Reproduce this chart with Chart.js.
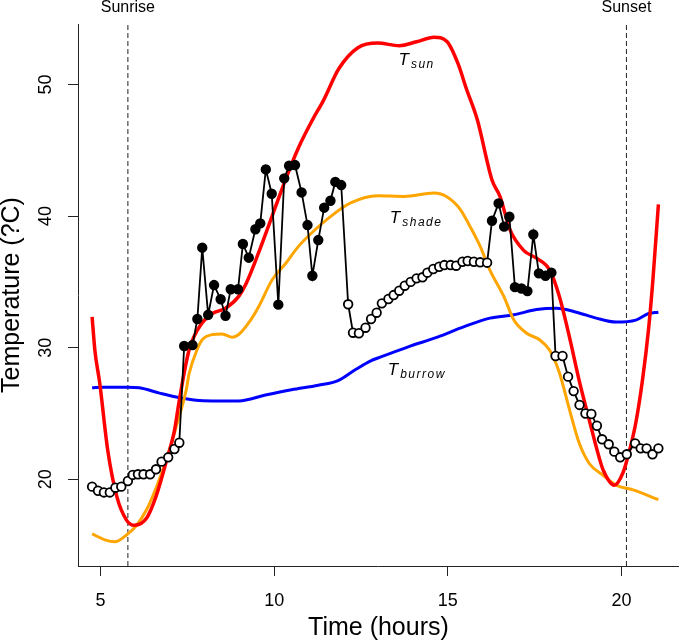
<!DOCTYPE html>
<html>
<head>
<meta charset="utf-8">
<script src="https://cdn.jsdelivr.net/npm/chart.js@4.4.1/dist/chart.umd.min.js"></script>
<style>
  html, body { margin: 0; padding: 0; background: #fff; }
  canvas { display: block; }
</style>
</head>
<body>
<canvas id="chart" width="685" height="644"></canvas>
<script>
// T sun (operative temperature in full sun)
const sunHours = [4.76, 4.84, 4.98, 5.21, 5.47, 5.75, 5.98, 6.33, 6.6, 6.9, 7.13, 7.27, 7.55, 7.93, 8.22, 8.6, 8.98, 9.18, 9.55, 9.9, 10.33, 10.7, 11.1, 11.42, 11.86, 12.41, 12.98, 13.6, 14.1, 14.6, 14.98, 15.29, 15.53, 15.85, 16.27, 16.5, 16.79, 17.18, 17.55, 17.93, 18.21, 18.5, 18.78, 19.07, 19.35, 19.47, 19.79, 20.04, 20.21, 20.41, 20.6, 20.78, 20.9, 21.06];
const sunTemps = [32.35, 29.8, 27.3, 22.2, 18.7, 16.9, 16.5, 17.05, 18.7, 21.4, 23.7, 26.0, 29.8, 31.9, 32.6, 33.0, 33.9, 34.8, 37.2, 39.7, 42.8, 45.2, 47.3, 48.8, 51.2, 52.8, 53.15, 52.95, 53.25, 53.6, 53.25, 51.6, 49.7, 47.3, 42.75, 41.5, 38.95, 37.4, 36.8, 35.9, 33.9, 30.8, 27.5, 24.5, 21.7, 20.7, 19.55, 20.5, 22.0, 24.3, 27.5, 31.5, 35.1, 40.9];

// T shade
const shadeHours = [4.76, 5.13, 5.41, 5.75, 6.04, 6.33, 6.61, 6.9, 7.18, 7.47, 7.55, 7.79, 7.93, 8.22, 8.5, 8.8, 8.98, 9.27, 9.55, 9.94, 10.33, 10.7, 11.07, 11.64, 12.2, 12.98, 13.74, 14.6, 14.98, 15.36, 15.64, 15.93, 16.21, 16.61, 16.9, 17.27, 17.64, 17.93, 18.21, 18.5, 18.78, 19.07, 19.47, 19.84, 20.33, 21.06];
const shadeTemps = [15.85, 15.4, 15.25, 15.77, 16.5, 17.7, 19.4, 21.5, 24.0, 26.8, 28.0, 29.9, 30.6, 31.0, 31.05, 30.8, 31.0, 31.9, 33.1, 35.15, 36.4, 37.7, 38.7, 40.0, 41.0, 41.55, 41.5, 41.75, 41.45, 40.5, 39.2, 37.7, 35.9, 33.9, 32.1, 31.1, 30.6, 29.8, 28.1, 25.3, 22.75, 21.2, 20.3, 19.55, 19.2, 18.45];

// T burrow
const burrowHours = [4.76, 5.07, 5.79, 6.12, 6.7, 7.18, 7.75, 8.22, 8.98, 9.75, 10.5, 11.27, 11.84, 12.32, 12.78, 13.07, 13.84, 14.7, 15.47, 16.21, 16.9, 17.55, 18.13, 18.7, 19.27, 19.84, 20.41, 20.78, 21.06];
const burrowTemps = [26.95, 27.0, 27.0, 26.95, 26.55, 26.25, 26.0, 25.95, 25.95, 26.4, 26.8, 27.15, 27.5, 28.3, 29.0, 29.3, 30.05, 30.8, 31.6, 32.25, 32.5, 32.9, 33.0, 32.7, 32.25, 31.95, 32.1, 32.6, 32.7];

// observed body temperature, 1 = filled point, 0 = open point
const bodyHours = [4.76, 4.93, 5.1, 5.27, 5.43, 5.6, 5.79, 5.93, 6.08, 6.24, 6.43, 6.6, 6.76, 6.95, 7.13, 7.27,
  7.41, 7.65, 7.79, 7.93, 8.1, 8.27, 8.46, 8.6, 8.75, 8.96, 9.1, 9.27, 9.46, 9.6, 9.76, 9.93, 10.12, 10.29, 10.43, 10.6, 10.79, 10.96, 11.1, 11.27, 11.44, 11.62, 11.76, 11.93,
  12.13, 12.27, 12.44, 12.63, 12.79, 12.95, 13.1, 13.29, 13.44, 13.6, 13.76, 13.93, 14.1, 14.27, 14.41, 14.58, 14.75, 14.9, 15.08, 15.24, 15.42, 15.57, 15.75, 15.93, 16.13,
  16.27, 16.46, 16.62, 16.77, 16.93, 17.12, 17.29, 17.46, 17.62, 17.81, 17.98,
  18.1, 18.3, 18.46, 18.62, 18.79, 18.96, 19.13, 19.29, 19.44, 19.63, 19.79, 19.96, 20.15, 20.39, 20.55, 20.72, 20.89, 21.06];
const bodyTemps = [19.44, 19.13, 19.0, 19.0, 19.36, 19.44, 19.87, 20.33, 20.38, 20.38, 20.38, 20.76, 21.34, 21.67, 22.3, 22.78,
  30.13, 30.2, 32.18, 37.6, 32.5, 34.76, 33.68, 32.43, 34.44, 34.44, 37.88, 36.84, 39.0, 39.45, 43.55, 41.7, 33.27, 42.87, 43.83, 43.88, 41.8, 39.32, 35.47, 38.18, 40.64, 41.17, 42.6, 42.36,
  33.3, 31.14, 31.1, 31.52, 32.18, 32.66, 33.37, 33.7, 34.0, 34.33, 34.71, 35.0, 35.27, 35.35, 35.7, 35.98, 36.15, 36.28, 36.28, 36.23, 36.53, 36.59, 36.53, 36.49, 36.46,
  39.65, 40.97, 39.2, 39.95, 34.6, 34.5, 34.3, 38.6, 35.65, 35.47, 35.7,
  29.37, 29.37, 27.8, 26.7, 25.65, 25.0, 24.96, 24.07, 23.04, 22.66, 22.1, 21.67, 21.9, 22.73, 22.35, 22.35, 21.9, 22.35];
const bodyFilled = [0,0,0,0,0,0,0,0,0,0,0,0,0,0,0,0,
  1,1,1,1,1,1,1,1,1,1,1,1,1,1,1,1,1,1,1,1,1,1,1,1,1,1,1,1,
  0,0,0,0,0,0,0,0,0,0,0,0,0,0,0,0,0,0,0,0,0,0,0,0,0,
  1,1,1,1,1,1,1,1,1,1,1,
  0,0,0,0,0,0,0,0,0,0,0,0,0,0,0,0,0,0];

const sunEventHours = [5.79, 20.14];
const sunEventLabels = ['Sunrise', 'Sunset'];

const curveNames = ['sun', 'shade', 'burrow'];
const curveLabelX = [13.58, 13.33, 13.27];
const curveLabelY = [51.48, 39.45, 27.93];

const xTicks = [5, 10, 15, 20];
const yTicks = [20, 30, 40, 50];
const xMin = 4.354, xMax = 21.65;
const yMin = 13.41, yMax = 54.6;

const FONT = "'Liberation Sans', Arial, Helvetica, sans-serif";
Chart.defaults.font.family = FONT;
Chart.defaults.color = '#000';

const pts = (xs, ys) => xs.map((v, i) => ({ x: v, y: ys[i] }));

const curve = (xs, ys, color, width) => ({
  data: pts(xs, ys),
  borderColor: color,
  borderWidth: width,
  pointRadius: 0,
  tension: 0.4,
  cubicInterpolationMode: 'monotone',
  fill: false
});

const dashLine = (h) => ({
  data: [{ x: h, y: yMin }, { x: h, y: yMax }],
  borderColor: '#222',
  borderWidth: 1,
  borderDash: [5, 3],
  pointRadius: 0,
  fill: false
});

const textPlugin = {
  id: 'texts',
  afterDatasetsDraw(chart) {
    const { ctx, scales: { x, y } } = chart;
    ctx.save();
    ctx.fillStyle = '#000';
    ctx.font = '16px ' + FONT;
    ctx.textAlign = 'center';
    ctx.textBaseline = 'middle';
    sunEventHours.forEach((h, i) => ctx.fillText(sunEventLabels[i], x.getPixelForValue(h), 8));

    ctx.textAlign = 'left';
    ctx.textBaseline = 'alphabetic';
    curveNames.forEach((name, i) => {
      const px = x.getPixelForValue(curveLabelX[i]);
      const py = y.getPixelForValue(curveLabelY[i]);
      ctx.font = 'italic 17px ' + FONT;
      ctx.letterSpacing = '0px';
      ctx.fillText('T', px, py);
      const w = ctx.measureText('T').width;
      ctx.font = 'italic 12px ' + FONT;
      ctx.letterSpacing = '1.5px';
      ctx.fillText(name, px + w + 2, py + 3);
    });
    ctx.restore();
  }
};

new Chart(document.getElementById('chart'), {
  type: 'line',
  data: {
    datasets: [
      {
        data: pts(bodyHours, bodyTemps),
        borderColor: '#000',
        borderWidth: 1.8,
        tension: 0,
        pointRadius: 4.3,
        pointBorderWidth: 1.8,
        pointBorderColor: '#000',
        pointBackgroundColor: ctx => bodyFilled[ctx.dataIndex] ? '#000' : '#fff',
        fill: false
      },
      curve(sunHours, sunTemps, '#ff0000', 3.5),
      curve(shadeHours, shadeTemps, '#ffa500', 3),
      curve(burrowHours, burrowTemps, '#0000ff', 3),
      dashLine(sunEventHours[0]),
      dashLine(sunEventHours[1])
    ]
  },
  options: {
    responsive: false,
    animation: false,
    layout: { padding: { top: 24, right: 2, left: 0, bottom: 0 } },
    plugins: { legend: { display: false }, tooltip: { enabled: false } },
    scales: {
      x: {
        type: 'linear',
        min: xMin,
        max: xMax,
        afterBuildTicks: s => { s.ticks = xTicks.map(v => ({ value: v })); },
        afterFit: s => { s.height = 78; },
        grid: { drawOnChartArea: false, drawTicks: true, tickLength: 10, color: '#222' },
        border: { display: true, color: '#222', width: 1 },
        ticks: { font: { size: 18 }, padding: 14, maxRotation: 0, autoSkip: false },
        title: { display: true, text: 'Time (hours)', font: { size: 25 }, padding: { top: 0, bottom: 1 } }
      },
      y: {
        type: 'linear',
        min: yMin,
        max: yMax,
        afterBuildTicks: s => { s.ticks = yTicks.map(v => ({ value: v })); },
        afterFit: s => { s.width = 78; },
        grid: { drawOnChartArea: false, drawTicks: true, tickLength: 10, color: '#222' },
        border: { display: true, color: '#222', width: 1 },
        ticks: { font: { size: 18 }, padding: 12, minRotation: 90, maxRotation: 90, crossAlign: 'center', autoSkip: false },
        title: { display: true, text: 'Temperature (?C)', font: { size: 25, lineHeight: 1 }, padding: 0 }
      }
    }
  },
  plugins: [textPlugin]
});
</script>
</body>
</html>
